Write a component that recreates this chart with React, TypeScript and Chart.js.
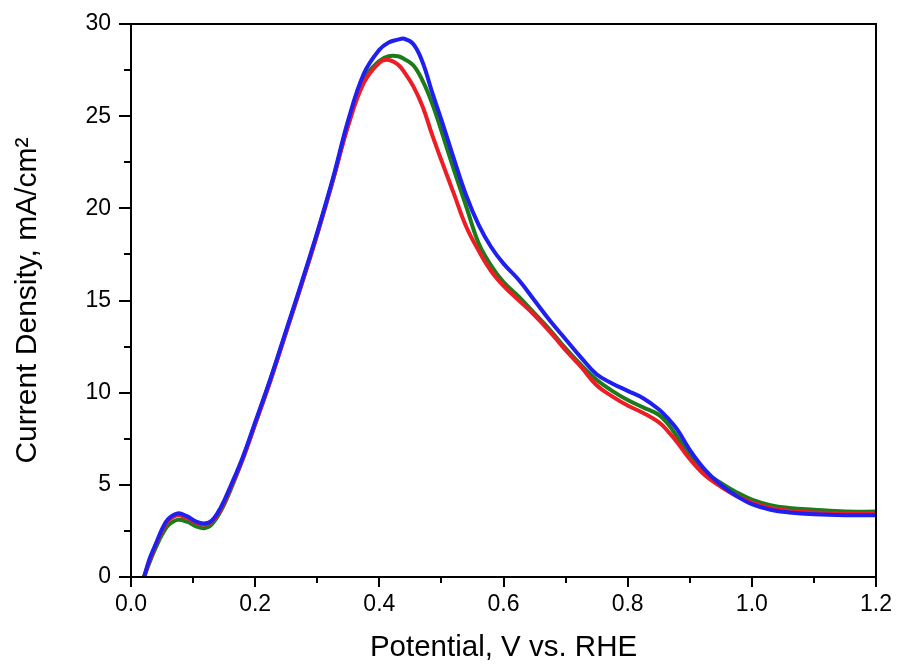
import React, { useEffect, useRef } from "react";
import { Chart, registerables } from "chart.js";

Chart.register(...registerables);

const potential = [0.021, 0.03, 0.04, 0.05, 0.06, 0.075, 0.09, 0.105, 0.118, 0.13, 0.145, 0.16, 0.18, 0.2, 0.225, 0.25, 0.275, 0.3, 0.325, 0.35, 0.375, 0.4, 0.415, 0.43, 0.44, 0.455, 0.47, 0.485, 0.5, 0.52, 0.54, 0.56, 0.58, 0.6, 0.625, 0.65, 0.675, 0.7, 0.725, 0.75, 0.775, 0.8, 0.825, 0.85, 0.865, 0.88, 0.9, 0.925, 0.95, 0.975, 1.0, 1.03, 1.06, 1.1, 1.15, 1.2];

const blueSeries = [0, 1.0, 1.8, 2.6, 3.15, 3.45, 3.3, 3.0, 2.9, 3.05, 3.8, 4.9, 6.5, 8.4, 10.8, 13.4, 16.0, 18.7, 21.6, 24.8, 27.3, 28.6, 29.0, 29.15, 29.2, 28.9, 27.9, 26.3, 24.8, 22.7, 20.7, 19.1, 17.9, 17.0, 16.1, 15.0, 13.9, 12.9, 11.9, 11.0, 10.5, 10.1, 9.7, 9.1, 8.6, 8.0, 6.9, 5.8, 5.0, 4.4, 3.95, 3.65, 3.5, 3.4, 3.35, 3.35];

const redSeries = [0, 0.9, 1.75, 2.5, 3.05, 3.35, 3.2, 2.95, 2.85, 3.0, 3.7, 4.8, 6.4, 8.3, 10.7, 13.3, 15.9, 18.6, 21.5, 24.5, 26.8, 27.9, 28.05, 27.8, 27.4, 26.6, 25.5, 24.0, 22.6, 20.8, 19.0, 17.7, 16.6, 15.8, 15.0, 14.2, 13.3, 12.3, 11.4, 10.4, 9.8, 9.3, 8.9, 8.4, 7.9, 7.3, 6.4, 5.5, 4.9, 4.4, 4.05, 3.75, 3.6, 3.5, 3.45, 3.45];

const greenSeries = [0, 0.8, 1.6, 2.3, 2.8, 3.1, 3.0, 2.75, 2.65, 2.85, 3.6, 4.7, 6.4, 8.3, 10.7, 13.3, 15.9, 18.6, 21.5, 24.6, 27.0, 28.0, 28.25, 28.25, 28.1, 27.75, 26.9, 25.7, 24.2, 22.1, 20.1, 18.1, 16.9, 16.0, 15.2, 14.3, 13.4, 12.4, 11.5, 10.7, 10.1, 9.6, 9.2, 8.8, 8.3, 7.6, 6.6, 5.7, 5.1, 4.6, 4.2, 3.9, 3.75, 3.65, 3.55, 3.55];

const xTitle = "Potential, V vs. RHE";
const yTitle = "Current Density, mA/cm²";

const FONT = "'Liberation Sans', Arial, sans-serif";

const framePlugin = {
  id: "frame",
  afterDraw(chart: any) {
    const { ctx, chartArea } = chart;
    const xs = chart.scales.x;
    const ys = chart.scales.y;
    ctx.save();
    ctx.strokeStyle = "#000";
    ctx.lineWidth = 2;
    ctx.strokeRect(chartArea.left, chartArea.top, chartArea.right - chartArea.left, chartArea.bottom - chartArea.top);
    for (let i = 0; i <= 12; i++) {
      const v = i / 10;
      const px = Math.round(xs.getPixelForValue(v));
      const len = i % 2 === 0 ? 10 : 6;
      ctx.beginPath();
      ctx.moveTo(px, chartArea.bottom);
      ctx.lineTo(px, chartArea.bottom + len);
      ctx.stroke();
    }
    for (let i = 0; i <= 12; i++) {
      const v = i * 2.5;
      const py = Math.round(ys.getPixelForValue(v));
      const len = i % 2 === 0 ? 12 : 7;
      ctx.beginPath();
      ctx.moveTo(chartArea.left, py);
      ctx.lineTo(chartArea.left - len, py);
      ctx.stroke();
    }
    ctx.restore();
  },
};

export default function App() {
  const ref = useRef<HTMLCanvasElement>(null);
  useEffect(() => {
    if (!ref.current) return;
    const mk = (label: string, ys: number[], color: string) => ({
      label,
      data: potential.map((x, i) => ({ x, y: ys[i] })),
      borderColor: color,
      backgroundColor: color,
      borderWidth: 4,
      pointRadius: 0,
      tension: 0.4,
      fill: false,
    });
    const zeroPad = (s: any) => {
      s.paddingLeft = 0;
      s.paddingRight = 0;
      s.paddingTop = 0;
      s.paddingBottom = 0;
    };
    const chart = new Chart(ref.current, {
      type: "line",
      data: {
        datasets: [
          mk("blue", blueSeries, "#1f1ff0"),
          mk("red", redSeries, "#ee1c24"),
          mk("green", greenSeries, "#1c7c1c"),
        ],
      },
      plugins: [framePlugin],
      options: {
        animation: false,
        responsive: false,
        maintainAspectRatio: false,
        layout: { padding: { left: 0, top: 24, right: 21, bottom: 0 } },
        plugins: { legend: { display: false }, tooltip: { enabled: false } },
        scales: {
          x: {
            type: "linear",
            min: 0,
            max: 1.2,
            grid: { display: false, drawTicks: false },
            border: { display: false },
            ticks: {
              stepSize: 0.2,
              padding: 14,
              color: "#000",
              font: { family: FONT, size: 23 },
              callback: (v: any) => Number(v).toFixed(1),
            },
            title: {
              display: true,
              text: xTitle,
              color: "#000",
              font: { family: FONT, size: 29.5 },
              padding: { top: 0, bottom: 0 },
            },
            afterFit: (s: any) => {
              s.height = 89;
              zeroPad(s);
            },
          },
          y: {
            min: 0,
            max: 30,
            grid: { display: false, drawTicks: false },
            border: { display: false },
            ticks: {
              stepSize: 5,
              padding: 20,
              color: "#000",
              font: { family: FONT, size: 23 },
            },
            title: {
              display: true,
              text: yTitle,
              color: "#000",
              font: { family: FONT, size: 30 },
              padding: { top: 10, bottom: 0 },
            },
            afterFit: (s: any) => {
              s.width = 131;
              zeroPad(s);
            },
          },
        },
      },
    });
    return () => chart.destroy();
  }, []);
  return (
    <div style={{ position: "fixed", left: 0, top: 0, width: 897, height: 666, background: "#fff" }}>
      <canvas ref={ref} width={897} height={666} style={{ width: 897, height: 666 }} />
    </div>
  );
}
